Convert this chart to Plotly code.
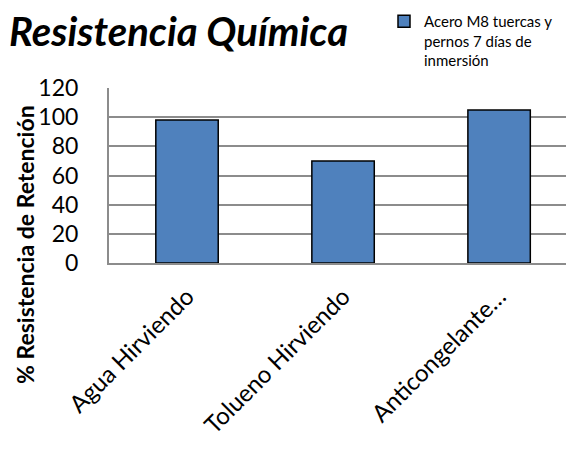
import plotly.graph_objects as go

categories = ["Agua Hirviendo", "Tolueno Hirviendo", "Anticongelante…"]
values = [98, 70, 105]
series_name = "Acero M8 tuercas y<br>pernos 7 días de<br>inmersión"
y_ticks = [0, 20, 40, 60, 80, 100, 120]

# page body has an 8px margin, so work in page coords and shift
OFF = 8
W, H = 574 - OFF, 456 - OFF
PL, PT, PB = 109, 88, 263          # plot area in page coords
L, T, B, R = PL - OFF, PT - OFF, H - (PB - OFF), 0
pw, ph = W - L - R, H - T - B

def px_x(x):
    return (x - OFF - L) / pw

def px_y(y):
    return (PB - y) / ph

fig = go.Figure()
fig.add_trace(go.Bar(
    x=categories, y=values, name=series_name,
    marker=dict(color="#4F81BD", line=dict(color="#000000", width=1.5)),
    showlegend=True,
))

font_main = "Lato, 'Open Sans', sans-serif"

fig.update_layout(
    width=W, height=H,
    margin=dict(l=L, r=R, t=T, b=B, autoexpand=False),
    paper_bgcolor="white", plot_bgcolor="white",
    bargap=0.6,
    font=dict(family=font_main, color="#000000"),
    title=dict(text="<b><i>Resistencia Química</i></b>", x=1 / W, xanchor="left",
               xref="container", y=1 - (32 - OFF) / H, yanchor="middle", yref="container",
               font=dict(size=40, family=font_main, color="#000000")),
    showlegend=True,
    legend=dict(x=px_x(384), y=px_y(5), xanchor="left", yanchor="top",
                font=dict(size=15, family=font_main), valign="top",
                bgcolor="rgba(0,0,0,0)", itemwidth=30,
                tracegroupgap=0),
    xaxis=dict(type="category", tickangle=-45, tickfont=dict(size=24),
               showline=True, linecolor="#8c8c8c", linewidth=2,
               ticks="", showgrid=False, range=[-0.5, 2.48],
               ticklabelstandoff=8),
    yaxis=dict(range=[0, 120], tickvals=y_ticks, tickfont=dict(size=23),
               showgrid=True, gridcolor="#8c8c8c", gridwidth=2,
               showline=True, linecolor="#8c8c8c", linewidth=2, mirror=False,
               ticks="", zeroline=False, ticklabelstandoff=24),
)

fig.add_annotation(text="<b>% Resistencia de Retención</b>", textangle=-90,
                   x=px_x(10), y=px_y(245), xref="paper", yref="paper",
                   xanchor="left", yanchor="middle", borderpad=0,
                   showarrow=False, font=dict(size=23, family=font_main))

fig.write_html("out.html")
